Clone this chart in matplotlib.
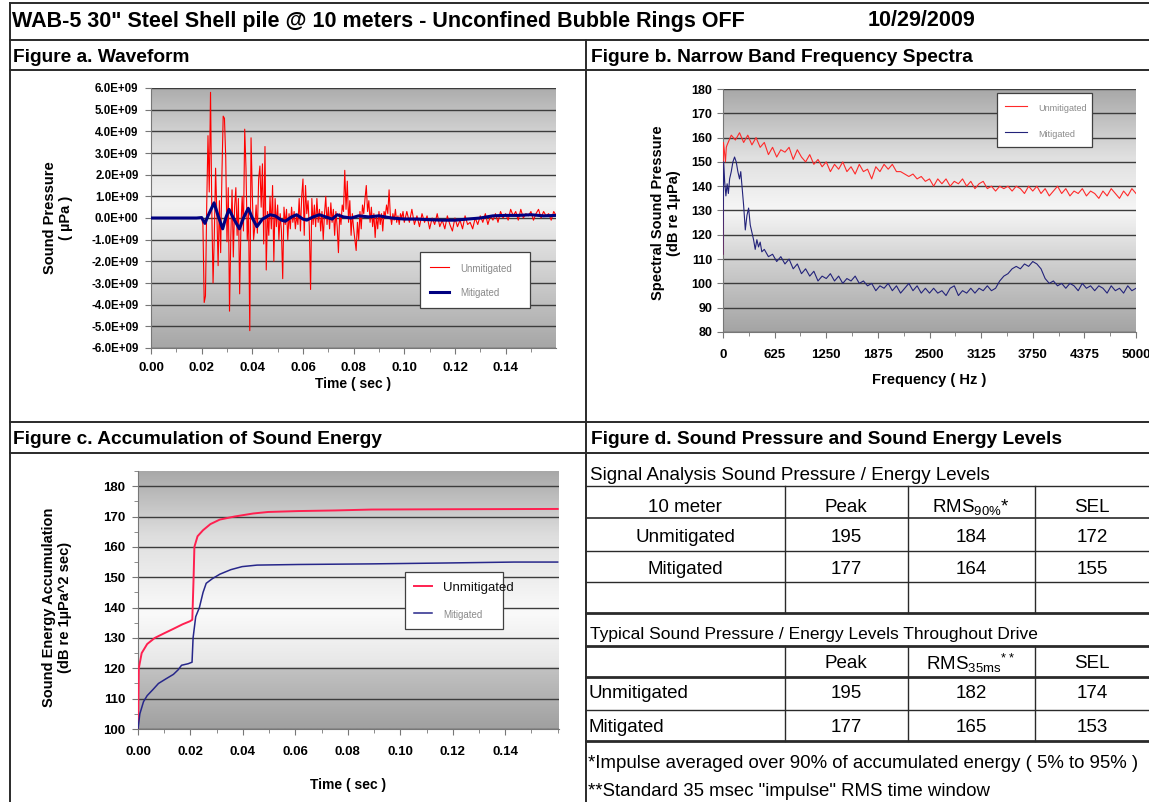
import matplotlib

matplotlib.use("Agg")
import matplotlib.pyplot as plt
import numpy as np
from matplotlib.colors import LinearSegmentedColormap
from matplotlib.lines import Line2D
from matplotlib.ticker import FuncFormatter, MultipleLocator

W, H = 1149, 802

# ---- Figure a: waveform (values in 1E+09 uPa) ----
RED_PRE_T = [0.0, 0.005, 0.010, 0.015, 0.0195]
RED_PRE_V = [0.0, 0.0, 0.0, 0.0, 0.0]
RED_ACTIVE_START, RED_ACTIVE_STEP = 0.020, 0.0005
RED_ACTIVE_V = [
    0.0, -0.3, -3.9, -3.6, 0.6, 3.8, 1.2, 5.8, 0.4, -3.0,
    -0.8, 2.3, 0.2, -2.2, 0.8, -1.6, 2.0, 4.7, 4.6, 2.8,
    -1.1, 1.4, -4.3, -0.9, 1.3, -1.8, 0.5, 1.4, -0.8, 0.9,
    -3.5, -0.4, 1.0, -0.6, 4.1, 2.3, -1.0, 0.3, -5.2, 3.7,
    1.1, -1.0, -0.4, 0.6, -0.7, 1.8, 2.4, 0.5, 2.5, -1.2,
    3.3, -2.4, 0.3, -0.8, 1.0, -0.5, 1.5, -2.0, 0.9, -0.4,
    0.6, -1.0, 0.2, -0.6, -2.8, 0.5, -0.3, 0.4, -1.0, 0.2,
    -0.5, 0.5, -0.2, 0.3, -0.5, 0.1, -0.3, 0.9, -0.6, 1.0,
    1.8, -0.8, 1.5, 0.2, 0.8, -0.4, -3.3, 0.9, -0.3, 0.6,
    -0.4, 0.9, -0.2, 0.4, -0.6, 0.3, -1.0, 0.2, 1.0, -0.3,
    0.5, -0.5, 0.7, -0.2, 0.4, -0.8, 0.3, -0.4, -1.6, 0.2,
    -0.3, 0.6, 0.3, 2.2, 0.4, 1.7, -0.2, 0.8, -0.8, 0.2,
    -0.5, -1.0, -1.5, -0.2, -1.0, 0.3, -0.5, 0.6, 0.2, 0.9,
    1.5, 0.3, 0.8, -0.2, 0.5, -0.4, 0.2, -0.9, 0.1, -0.5,
    0.3, -0.3, 0.2, -0.6, 0.3, 0.1, 0.6, 0.2, 1.3, 0.1,
    -0.3, 0.2, -0.1, 0.4, -0.2, 0.1, -0.3, 0.2, 0.0, 0.3,
    -0.2,
]
RED_TAIL_START, RED_TAIL_STEP = 0.101, 0.001
RED_TAIL_V = [
    0.3, -0.2, 0.4, -0.3, 0.1, -0.4, 0.2, -0.2, 0.1, -0.5,
    0.0, -0.3, 0.2, -0.4, -0.1, -0.5, 0.1, -0.3, -0.6, 0.0,
    -0.4, -0.1, -0.5, 0.1, -0.3, -0.2, -0.5, 0.0, -0.3, 0.1,
    -0.2, 0.2, -0.3, 0.1, -0.1, 0.2, -0.2, 0.3, 0.0, 0.2,
    -0.1, 0.4, 0.1, 0.3, -0.1, 0.4, 0.0, 0.2, 0.1, 0.3,
    -0.1, 0.2, 0.4, 0.0, 0.3, 0.1, 0.2, -0.1, 0.3, 0.1,
]
BLUE_WAVE_T = [
    0.0, 0.018, 0.0200, 0.0213, 0.0225, 0.0249, 0.0265, 0.0283, 0.0295, 0.0308,
    0.0325, 0.0349, 0.0365, 0.0384, 0.0400, 0.0418, 0.0440, 0.0470, 0.0490, 0.0515,
    0.0530, 0.0555, 0.0575, 0.0600, 0.0615, 0.0640, 0.0665, 0.0690, 0.0715, 0.0735,
    0.0760, 0.0790, 0.0820, 0.0860, 0.0900, 0.0950, 0.1000, 0.1050, 0.1100, 0.1150,
    0.1200, 0.1250, 0.1300, 0.1350, 0.1400, 0.1450, 0.1500, 0.1550, 0.1600,
]
BLUE_WAVE_V = [
    0.0, 0.0, 0.02, -0.25, 0.1, 0.7, 0.1, -0.5, 0.0, 0.4,
    0.0, -0.5, 0.0, 0.45, 0.0, -0.4, -0.05, 0.15, 0.1, -0.1,
    -0.15, 0.05, 0.15, -0.05, -0.1, 0.05, 0.15, 0.05, -0.05, 0.15,
    0.05, 0.0, 0.1, 0.05, 0.1, 0.0, -0.05, -0.05, -0.08, -0.1,
    -0.1, -0.05, 0.0, 0.1, 0.12, 0.12, 0.15, 0.1, 0.12,
]
WAVE_YTICKS = [-6, -5, -4, -3, -2, -1, 0, 1, 2, 3, 4, 5, 6]
TIME_TICKS = [0.00, 0.02, 0.04, 0.06, 0.08, 0.10, 0.12, 0.14]

# ---- Figure b: narrow band spectra (dB re 1uPa) ----
RED_SPEC_LOW_F = [0, 5, 15, 30, 40]
RED_SPEC_LOW_V = [112, 158, 155, 150, 156]
RED_SPEC_START, SPEC_STEP = 50, 50
RED_SPEC_V = [
    157, 161, 159, 162, 158, 161, 157, 160, 156, 158,
    153, 156, 152, 155, 154, 156, 151, 155, 152, 150,
    153, 149, 151, 148, 150, 146, 149, 147, 150, 146,
    148, 145, 149, 146, 147, 143, 148, 146, 149, 147,
    149, 146, 146, 145, 144, 145, 143, 144, 142, 143,
    140, 143, 141, 143, 140, 142, 141, 143, 140, 142,
    139, 141, 142, 139, 140, 138, 140, 139, 140, 138,
    140, 139, 137, 140, 138, 140, 137, 139, 136, 138,
    140, 137, 139, 136, 138, 137, 139, 136, 138, 137,
    135, 138, 136, 139, 137, 135, 138, 136, 139, 137,
]
BLUE_SPEC_LOW_F = [
    0, 8, 20, 35, 50, 65, 80, 100, 120, 140, 160, 180, 200, 215,
    230, 250, 270, 290, 310, 330, 350, 370, 390, 410, 430, 450, 470,
]
BLUE_SPEC_LOW_V = [
    112, 150, 142, 136, 141, 137, 143, 146, 150, 152, 150, 146, 143, 146,
    140, 132, 122, 128, 131, 124, 121, 118, 114, 118, 115, 117, 113,
]
BLUE_SPEC_START = 500
BLUE_SPEC_V = [
    114, 111, 112, 109, 111, 108, 110, 106, 108, 104,
    106, 103, 105, 101, 103, 102, 104, 101, 103, 100,
    102, 101, 103, 100, 101, 99, 100, 97, 99, 98,
    100, 97, 99, 96, 98, 100, 97, 99, 96, 98,
    96, 98, 96, 97, 95, 98, 99, 95, 97, 96,
    98, 96, 98, 97, 99, 97, 98, 101, 103, 104,
    106, 107, 106, 108, 107, 109, 108, 106, 102, 100,
    101, 99, 100, 98, 100, 99, 97, 100, 98, 99,
    97, 99, 98, 96, 99, 97, 98, 96, 99, 97,
    98,
]
FREQ_TICKS = [0, 625, 1250, 1875, 2500, 3125, 3750, 4375, 5000]

# ---- Figure c: accumulation of sound energy (dB re 1uPa^2 sec) ----
RED_ACC_T = [
    0.0, 0.0003, 0.0014, 0.0035, 0.0064, 0.0099, 0.0135, 0.0170, 0.0198, 0.0207,
    0.0212, 0.0215, 0.0227, 0.0248, 0.0276, 0.0312, 0.0368, 0.0439, 0.0496, 0.0610,
    0.0750, 0.0890, 0.1180, 0.1600,
]
RED_ACC_V = [
    100, 120, 125, 128, 130, 131.5, 133, 134.5, 135.5, 136,
    150, 160, 163.5, 165.5, 167.5, 169, 170, 171, 171.5, 171.8,
    172, 172.3, 172.4, 172.5,
]
BLUE_ACC_T = [
    0.0, 0.0007, 0.0021, 0.0035, 0.0057, 0.0078, 0.0106, 0.0135, 0.0153, 0.0166,
    0.0191, 0.0206, 0.0210, 0.0220, 0.0234, 0.0248, 0.0260, 0.0283, 0.0312, 0.0354,
    0.0397, 0.0454, 0.0610, 0.0890, 0.1180, 0.1434, 0.1600,
]
BLUE_ACC_V = [
    100, 105, 109, 111, 113, 115, 116.5, 118, 119.5, 121,
    121.5, 122, 130, 137, 140, 145, 148, 149.5, 151, 152.5,
    153.5, 154, 154.2, 154.4, 154.7, 155, 155,
]

# ---- Figure d: level tables ----
SIGNAL_HEAD = ["10 meter", "Peak", r"RMS$_{90\%}$*", "SEL"]
SIGNAL_ROWS = [["Unmitigated", "195", "184", "172"], ["Mitigated", "177", "164", "155"]]
TYPICAL_HEAD = ["", "Peak", r"RMS$_{35ms}$$^{**}$", "SEL"]
TYPICAL_ROWS = [["Unmitigated", "195", "182", "174"], ["Mitigated", "177", "165", "153"]]
NOTES = [
    "*Impulse averaged over 90% of accumulated energy ( 5% to 95% )",
    "**Standard 35 msec \"impulse\" RMS time window",
]

RED = "#ff0000"
NAVY = "#000080"
LINE = "#2a2a2a"

plt.rcParams["font.family"] = ["Liberation Sans", "DejaVu Sans"]
plt.rcParams["font.weight"] = "bold"
plt.rcParams["axes.labelweight"] = "bold"
plt.rcParams["mathtext.default"] = "regular"

fig = plt.figure(figsize=(W / 100, H / 100), dpi=100)


def px_axes(left, top, right, bottom):
    return fig.add_axes([left / W, 1 - bottom / H, (right - left) / W, (bottom - top) / H])


def ftext(x, y, s, **kw):
    kw.setdefault("va", "center")
    return fig.text(x / W, 1 - y / H, s, **kw)


def hline(y, x0=10, x1=W, lw=1.4):
    fig.add_artist(Line2D([x0 / W, x1 / W], [1 - y / H] * 2, transform=fig.transFigure,
                          color=LINE, lw=lw))


def vline(x, y0, y1, lw=1.4):
    fig.add_artist(Line2D([x / W] * 2, [1 - y0 / H, 1 - y1 / H], transform=fig.transFigure,
                          color=LINE, lw=lw))


def style_axes(ax, stops):
    cmap = LinearSegmentedColormap.from_list("bg", stops)
    grad = np.linspace(0, 1, 256).reshape(-1, 1)
    ax.imshow(grad, extent=(0, 1, 0, 1), transform=ax.transAxes, origin="lower",
              cmap=cmap, aspect="auto", zorder=0, interpolation="bilinear")
    for side in ("top", "right"):
        ax.spines[side].set_visible(False)
    for side in ("left", "bottom"):
        ax.spines[side].set_color("#777777")
    ax.grid(axis="y", color="#3c3c3c", lw=1.0)
    ax.tick_params(which="both", direction="out", color="#777777", length=4)
    ax.tick_params(which="minor", length=3)


def style_legend(leg, colors, sizes):
    leg.get_frame().set_edgecolor("#404040")
    leg.get_frame().set_linewidth(0.9)
    for text, color, size in zip(leg.get_texts(), colors, sizes):
        text.set_color(color)
        text.set_fontsize(size)
        text.set_fontweight("normal")


# ---- panel frame ----
hline(3)
hline(40)
hline(70)
hline(422)
hline(453)
vline(10, 3, H)
vline(586, 40, H)

ftext(12, 21, 'WAB-5 30" Steel Shell pile @ 10 meters - Unconfined Bubble Rings OFF', fontsize=15.5)
ftext(868, 21, "10/29/2009", fontsize=15.5)
ftext(13, 57, "Figure a. Waveform", fontsize=13.8)
ftext(591, 57, "Figure b. Narrow Band Frequency Spectra", fontsize=13.8)
ftext(13, 439, "Figure c. Accumulation of Sound Energy", fontsize=13.8)
ftext(591, 439, "Figure d. Sound Pressure and Sound Energy Levels", fontsize=13.8)

# ---- Figure a ----
ax_a = px_axes(151, 88, 556, 348)
style_axes(ax_a, [(0, "#a6a6a6"), (0.3, "#d2d2d2"), (0.55, "#f2f2f2"), (0.78, "#dcdcdc"), (1, "#acacac")])
red_t = np.concatenate([
    RED_PRE_T,
    RED_ACTIVE_START + RED_ACTIVE_STEP * np.arange(len(RED_ACTIVE_V)),
    RED_TAIL_START + RED_TAIL_STEP * np.arange(len(RED_TAIL_V)),
])
red_v = np.concatenate([RED_PRE_V, RED_ACTIVE_V, RED_TAIL_V]) * 1e9
ax_a.plot(red_t, red_v, color=RED, lw=0.8, label="Unmitigated", zorder=3)
ax_a.plot(BLUE_WAVE_T, np.array(BLUE_WAVE_V) * 1e9, color=NAVY, lw=2.2, label="Mitigated", zorder=4)
ax_a.set_xlim(0, 0.1599)
ax_a.set_ylim(-6e9, 6e9)
ax_a.set_yticks(np.array(WAVE_YTICKS) * 1e9)
ax_a.yaxis.set_major_formatter(FuncFormatter(lambda v, _: f"{v:.1E}"))
ax_a.set_xticks(TIME_TICKS)
ax_a.xaxis.set_major_formatter(FuncFormatter(lambda v, _: f"{v:.2f}"))
ax_a.xaxis.set_minor_locator(MultipleLocator(0.01))
ax_a.tick_params(axis="y", labelsize=8.3, pad=5)
ax_a.tick_params(axis="x", labelsize=9.5, pad=6)
ax_a.set_xlabel("Time ( sec )", fontsize=10, labelpad=2)
ftext(58, 218, "Sound Pressure\n( µPa )", fontsize=10.5, rotation=90, ha="center",
      multialignment="center")
leg_a = ax_a.legend(loc="upper left", bbox_to_anchor=(0.664, 0.165, 0.272, 0.204), mode="expand",
                    fancybox=False, framealpha=1, handlelength=1.4, labelspacing=0.95,
                    borderpad=0.7, borderaxespad=0)
style_legend(leg_a, ["#8a8a8a", "#8a8a8a"], [7, 7])

# ---- Figure b ----
ax_b = px_axes(723, 89, 1136, 332)
style_axes(ax_b, [(0, "#a4a4a4"), (0.28, "#cfcfcf"), (0.5, "#f6f6f6"), (0.72, "#e0e0e0"), (1, "#a8a8a8")])
red_f = np.concatenate([RED_SPEC_LOW_F, RED_SPEC_START + SPEC_STEP * np.arange(len(RED_SPEC_V))])
blue_f = np.concatenate([BLUE_SPEC_LOW_F, BLUE_SPEC_START + SPEC_STEP * np.arange(len(BLUE_SPEC_V))])
ax_b.plot(red_f, np.concatenate([RED_SPEC_LOW_V, RED_SPEC_V]), color="#ff2a2a", lw=0.8,
          label="Unmitigated", zorder=3)
ax_b.plot(blue_f, np.concatenate([BLUE_SPEC_LOW_V, BLUE_SPEC_V]), color="#23237a", lw=0.8,
          label="Mitigated", zorder=3)
ax_b.set_xlim(0, 5000)
ax_b.set_ylim(80, 180)
ax_b.set_yticks(range(80, 181, 10))
ax_b.set_xticks(FREQ_TICKS)
ax_b.xaxis.set_minor_locator(MultipleLocator(312.5))
ax_b.tick_params(axis="y", labelsize=9)
ax_b.tick_params(axis="x", labelsize=9.5, pad=8)
ax_b.set_xlabel("Frequency ( Hz )", fontsize=10.5, labelpad=9)
ftext(666, 213, "Spectral Sound Pressure\n(dB re 1µPa)", fontsize=10.5, rotation=90,
      ha="center", multialignment="center")
leg_b = ax_b.legend(loc="upper left", bbox_to_anchor=(0.663, 0.778, 0.23, 0.206), mode="expand",
                    fancybox=False, framealpha=1, handlelength=1.6, labelspacing=1.0,
                    borderpad=0.6, borderaxespad=0)
style_legend(leg_b, ["#8a8a8a", "#8a8a8a"], [6.5, 6.5])

# ---- Figure c ----
ax_c = px_axes(138, 471, 559, 729)
style_axes(ax_c, [(0, "#a0a0a0"), (0.234, "#c2c2c2"), (0.24, "#e6e6e6"), (0.45, "#fafafa"),
                  (0.75, "#dedede"), (1, "#a8a8a8")])
ax_c.plot(RED_ACC_T, RED_ACC_V, color="#ff2050", lw=1.4, label="Unmitigated", zorder=3)
ax_c.plot(BLUE_ACC_T, BLUE_ACC_V, color="#27278a", lw=1.1, label="Mitigated", zorder=3)
ax_c.set_xlim(0, 0.1605)
ax_c.set_ylim(100, 185)
ax_c.set_yticks(range(100, 181, 10))
ax_c.yaxis.set_minor_locator(MultipleLocator(5))
ax_c.set_xticks(TIME_TICKS)
ax_c.xaxis.set_major_formatter(FuncFormatter(lambda v, _: f"{v:.2f}"))
ax_c.xaxis.set_minor_locator(MultipleLocator(0.01))
ax_c.tick_params(axis="y", labelsize=9.5, pad=5)
ax_c.tick_params(axis="x", labelsize=9.5, pad=8)
ax_c.set_xlabel("Time ( sec )", fontsize=10, labelpad=15)
ftext(57, 607, "Sound Energy Accumulation\n(dB re 1µPa^2 sec)", fontsize=10.5, rotation=90,
      ha="center", multialignment="center")
leg_c = ax_c.legend(loc="upper left", bbox_to_anchor=(0.634, 0.403, 0.233, 0.206), mode="expand",
                    fancybox=False, framealpha=1, handlelength=1.3, labelspacing=1.05,
                    borderpad=0.65, borderaxespad=0)
style_legend(leg_c, ["#111111", "#8a8a8a"], [9.5, 7])

# ---- Figure d: tables ----
CELL_FONT = dict(fontsize=13.5, fontweight="normal")
COL_X = [685, 846, 971, 1092]
ftext(590, 475, "Signal Analysis Sound Pressure / Energy Levels", fontsize=13.5, fontweight="normal")
hline(486, 586, W, lw=1.0)
hline(518, 586, W, lw=1.2)
hline(551, 586, W, lw=1.0)
hline(582, 586, W, lw=1.0)
hline(613, 586, W, lw=2.0)
for x in [785, 908, 1035]:
    vline(x, 486, 613, lw=1.0)
for cx, s in zip(COL_X, SIGNAL_HEAD):
    ftext(cx, 507, s, ha="center", **CELL_FONT)
for y, row in zip([538, 570], SIGNAL_ROWS):
    for cx, s in zip(COL_X, row):
        ftext(cx, y, s, ha="center", **CELL_FONT)

ftext(590, 635, "Typical Sound Pressure / Energy Levels Throughout Drive", fontsize=12.5,
      fontweight="normal")
hline(646, 586, W, lw=2.0)
hline(677, 586, W, lw=2.0)
hline(710, 586, W, lw=1.0)
hline(741, 586, W, lw=2.0)
for x in [785, 908, 1035]:
    vline(x, 646, 741, lw=1.0)
for cx, s in zip(COL_X[1:], TYPICAL_HEAD[1:]):
    ftext(cx, 663, s, ha="center", **CELL_FONT)
for y, row in zip([694, 727], TYPICAL_ROWS):
    ftext(588, y, row[0], ha="left", **CELL_FONT)
    for cx, s in zip(COL_X[1:], row[1:]):
        ftext(cx, y, s, ha="center", **CELL_FONT)
for y, s in zip([763, 792], NOTES):
    ftext(588, y, s, ha="left", fontsize=13.4, fontweight="normal")

fig.savefig("out.png", dpi=100)
